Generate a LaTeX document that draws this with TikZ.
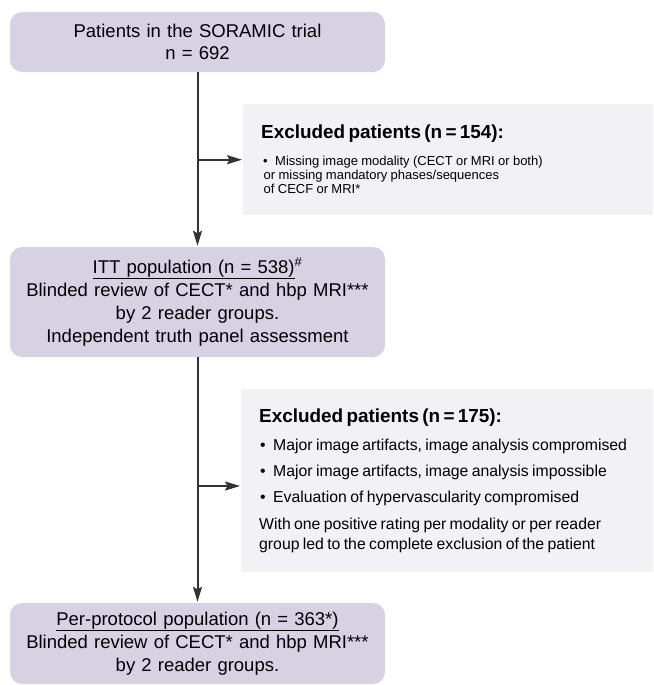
\documentclass[tikz,border=0pt]{standalone}
\usepackage{fontspec}
\setmainfont{Liberation Sans}
\usetikzlibrary{arrows.meta}
\definecolor{boxlav}{HTML}{D6D2E4}
\definecolor{boxgray}{HTML}{F2F1F6}
\definecolor{linegray}{HTML}{333333}
\begin{document}
\begin{tikzpicture}[x=1pt,y=-1pt,
  mainbox/.style={fill=boxlav, rounded corners=12pt, minimum width=375pt, text width=370pt, align=center, inner sep=0pt, font=\fontsize{18.5}{23}\selectfont},
  exbox/.style={fill=boxgray, anchor=north west, inner xsep=18pt, inner ysep=0pt, align=left},
  flow/.style={draw=linegray, line width=2pt},
  arr/.style={flow, -{Stealth[length=15pt,width=9pt,inset=2.5pt]}, shorten >=1pt}
]
\useasboundingbox (0,0) rectangle (653,685);

\node[mainbox, minimum height=60pt, font=\fontsize{18.5}{22}\selectfont] (top) at (197.5,42)
  {Patients in the SORAMIC trial\\ n = 692};

\node[mainbox, minimum height=110pt] (itt) at (197.5,302)
  {\underline{ITT population (n = 538)}\textsuperscript{\#}\\
   Blinded review of CECT* and hbp MRI***\\
   by 2 reader groups.\\
   Independent truth panel assessment};

\node[mainbox, minimum height=81pt] (pp) at (197.5,643.5)
  {\underline{Per-protocol population (n = 363*)}\\
   Blinded review of CECT* and hbp MRI***\\
   by 2 reader groups.};

\node[exbox, minimum width=410pt, text width=374pt, minimum height=111pt] (ex1) at (243,104)
  {\parindent=0pt
   {\fontsize{18.9}{22}\selectfont\bfseries Excluded patients (n = 154):\par}
   \vspace{13pt}
   {\fontsize{13}{14}\selectfont
   \hspace*{2pt}\makebox[12pt][l]{\textbullet}Missing image modality (CECT or MRI or both)\par
   \hspace*{2.5pt}or missing mandatory phases/sequences\par
   \hspace*{2.5pt}of CECF or MRI*\par}};

\node[exbox, minimum width=412pt, text width=376pt, minimum height=183pt] (ex2) at (241,389)
  {\parindent=0pt
   {\fontsize{18.9}{22}\selectfont\bfseries Excluded patients (n = 175):\par}
   \vspace{8.5pt}
   {\fontsize{15.8}{19.5}\selectfont
   \makebox[14pt][l]{\hspace{1pt}\textbullet}Major image artifacts, image analysis compromised\par
   \vspace{6.5pt}
   \makebox[14pt][l]{\hspace{1pt}\textbullet}Major image artifacts, image analysis impossible\par
   \vspace{6.5pt}
   \makebox[14pt][l]{\hspace{1pt}\textbullet}Evaluation of hypervascularity compromised\par
   \vspace{7.5pt}
   \fontsize{15.8}{20}\selectfont
   With one positive rating per modality or per reader\par
   group led to the complete exclusion of the patient\par}};

\coordinate (b2) at (197.5,486);

\draw[arr] (top.south) -- (itt.north);
\draw[arr] (top.south |- ex1.west) -- (ex1.west);
\draw[arr] (itt.south) -- (pp.north);
\draw[arr] (itt.south |- b2) -- (ex2.west |- b2);
\end{tikzpicture}
\end{document}
